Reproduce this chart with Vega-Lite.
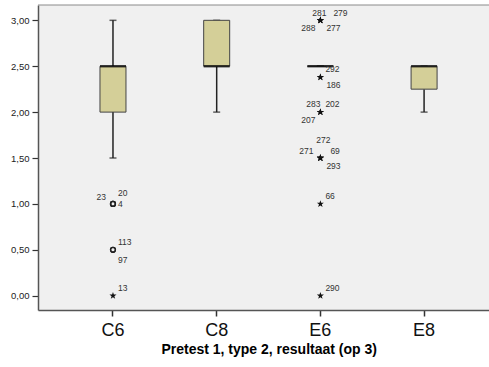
{
  "$schema": "https://vega.github.io/schema/vega-lite/v6.json",
  "width": 451,
  "height": 305,
  "autosize": {"type": "none"},
  "padding": {"left": 38, "top": 5, "right": 0, "bottom": 57},
  "background": "white",
  "config": {
    "view": {"stroke": null, "fill": "#f0f0f0"},
    "font": "Liberation Sans",
    "text": {"font": "Liberation Sans", "fontSize": 8.5, "color": "#333", "baseline": "middle"}
  },
  "datasets": {
    "boxes": [
      {"g": "C6", "low": 1.5, "q1": 2.0, "median": 2.5, "q3": 2.5, "high": 3.0},
      {"g": "C8", "low": 2.0, "q1": 2.5, "median": 2.5, "q3": 3.0, "high": 3.0},
      {"g": "E6", "low": 2.5, "q1": 2.5, "median": 2.5, "q3": 2.5, "high": 2.5},
      {"g": "E8", "low": 2.0, "q1": 2.25, "median": 2.5, "q3": 2.5, "high": 2.5}
    ],
    "cases": [
      {"g": "C6", "v": 1.0, "id": "23", "kind": "circle"},
      {"g": "C6", "v": 1.0, "id": "20", "kind": "circle"},
      {"g": "C6", "v": 1.0, "id": "4", "kind": "circle"},
      {"g": "C6", "v": 0.5, "id": "113", "kind": "circle"},
      {"g": "C6", "v": 0.5, "id": "97", "kind": "circle"},
      {"g": "C6", "v": 0.0, "id": "13", "kind": "star"},
      {"g": "E6", "v": 3.0, "id": "281", "kind": "star"},
      {"g": "E6", "v": 3.0, "id": "279", "kind": "star"},
      {"g": "E6", "v": 3.0, "id": "288", "kind": "star"},
      {"g": "E6", "v": 3.0, "id": "277", "kind": "star"},
      {"g": "E6", "v": 2.38, "id": "292", "kind": "star"},
      {"g": "E6", "v": 2.38, "id": "186", "kind": "star"},
      {"g": "E6", "v": 2.0, "id": "283", "kind": "star"},
      {"g": "E6", "v": 2.0, "id": "202", "kind": "star"},
      {"g": "E6", "v": 2.0, "id": "207", "kind": "star"},
      {"g": "E6", "v": 1.5, "id": "272", "kind": "star"},
      {"g": "E6", "v": 1.5, "id": "271", "kind": "star"},
      {"g": "E6", "v": 1.5, "id": "69", "kind": "star"},
      {"g": "E6", "v": 1.5, "id": "293", "kind": "star"},
      {"g": "E6", "v": 1.0, "id": "66", "kind": "star"},
      {"g": "E6", "v": 0.0, "id": "290", "kind": "star"}
    ]
  },
  "layer": [
    {
      "data": {"name": "boxes"},
      "mark": {"type": "rule", "color": "#222", "strokeWidth": 1.5},
      "encoding": {
        "x": {
          "field": "g", "type": "nominal",
          "scale": {"type": "band", "domain": ["C6", "C8", "E6", "E8"], "paddingInner": 0, "paddingOuter": 0.1745, "align": 0.639},
          "axis": {
            "title": "Pretest 1, type 2, resultaat (op 3)",
            "labelAngle": 0, "labelFontSize": 18, "labelColor": "#111", "labelPadding": 5,
            "tickSize": 6, "tickColor": "#333", "tickWidth": 1.5,
            "domainColor": "#555", "domainWidth": 1.5,
            "titleFontSize": 14, "titleFontWeight": "bold", "titleColor": "#000",
            "titleX": 230.7, "titleY": 43, "titleBaseline": "alphabetic", "titleAlign": "center"
          }
        },
        "y": {
          "field": "low", "type": "quantitative", "title": null,
          "scale": {"domain": [-0.156, 3.167], "nice": false, "zero": false},
          "axis": {
            "title": null,
            "values": [0, 0.5, 1, 1.5, 2, 2.5, 3],
            "labelExpr": "replace(format(datum.value, '.2f'), '.', ',')",
            "labelFontSize": 9.5, "labelColor": "#222", "labelPadding": 3,
            "tickSize": 6, "tickColor": "#333", "tickWidth": 1.2,
            "domainColor": "#555", "domainWidth": 1.5, "grid": false
          }
        },
        "y2": {"field": "q1"}
      }
    },
    {
      "data": {"name": "boxes"},
      "mark": {"type": "rule", "color": "#222", "strokeWidth": 1.5},
      "encoding": {
        "x": {"field": "g", "type": "nominal"},
        "y": {"field": "q3", "type": "quantitative", "title": null},
        "y2": {"field": "high"}
      }
    },
    {
      "data": {"name": "boxes"},
      "mark": {"type": "tick", "orient": "horizontal", "size": 7, "thickness": 1.5, "color": "#222"},
      "encoding": {
        "x": {"field": "g", "type": "nominal"},
        "y": {"field": "low", "type": "quantitative", "title": null}
      }
    },
    {
      "data": {"name": "boxes"},
      "mark": {"type": "tick", "orient": "horizontal", "size": 7, "thickness": 1.5, "color": "#222"},
      "encoding": {
        "x": {"field": "g", "type": "nominal"},
        "y": {"field": "high", "type": "quantitative", "title": null}
      }
    },
    {
      "data": {"name": "boxes"},
      "mark": {"type": "bar", "size": 26, "fill": "#d4cf98", "stroke": "#444", "strokeWidth": 1},
      "encoding": {
        "x": {"field": "g", "type": "nominal"},
        "y": {"field": "q1", "type": "quantitative", "title": null},
        "y2": {"field": "q3"}
      }
    },
    {
      "data": {"name": "boxes"},
      "mark": {"type": "tick", "orient": "horizontal", "size": 26, "thickness": 2.5, "color": "#000"},
      "encoding": {
        "x": {"field": "g", "type": "nominal"},
        "y": {"field": "median", "type": "quantitative", "title": null}
      }
    },
    {
      "data": {"values": [{"edge": "top"}]},
      "mark": {"type": "rule", "color": "#8a8a8a", "strokeWidth": 1},
      "encoding": {
        "y": {"datum": 3.167, "type": "quantitative", "title": null}
      }
    },
    {
      "data": {"name": "cases"},
      "transform": [{"filter": "datum.kind === 'circle'"}],
      "mark": {"type": "point", "shape": "circle", "filled": false, "stroke": "#222", "strokeWidth": 1.3, "size": 24, "opacity": 1},
      "encoding": {
        "x": {"field": "g", "type": "nominal"},
        "y": {"field": "v", "type": "quantitative", "title": null}
      }
    },
    {
      "data": {"name": "cases"},
      "transform": [{"filter": "datum.kind === 'star'"}],
      "mark": {"type": "point", "shape": "M0,-1L0.235,-0.324L0.951,-0.309L0.38,0.124L0.588,0.809L0,0.4L-0.588,0.809L-0.38,0.124L-0.951,-0.309L-0.235,-0.324Z", "filled": true, "fill": "#111", "strokeWidth": 0, "size": 55, "opacity": 1},
      "encoding": {
        "x": {"field": "g", "type": "nominal"},
        "y": {"field": "v", "type": "quantitative", "title": null}
      }
    },
    {
      "data": {"name": "cases"},
      "transform": [{"filter": {"field": "id", "oneOf": ["113", "13", "66", "290", "202", "292"]}}],
      "mark": {"type": "text", "align": "left", "dx": 5, "dy": -8},
      "encoding": {"x": {"field": "g", "type": "nominal"}, "y": {"field": "v", "type": "quantitative", "title": null}, "text": {"field": "id"}}
    },
    {
      "data": {"name": "cases"},
      "transform": [{"filter": {"field": "id", "oneOf": ["20"]}}],
      "mark": {"type": "text", "align": "left", "dx": 5, "dy": -11},
      "encoding": {"x": {"field": "g", "type": "nominal"}, "y": {"field": "v", "type": "quantitative", "title": null}, "text": {"field": "id"}}
    },
    {
      "data": {"name": "cases"},
      "transform": [{"filter": {"field": "id", "oneOf": ["4"]}}],
      "mark": {"type": "text", "align": "left", "dx": 5, "dy": 0},
      "encoding": {"x": {"field": "g", "type": "nominal"}, "y": {"field": "v", "type": "quantitative", "title": null}, "text": {"field": "id"}}
    },
    {
      "data": {"name": "cases"},
      "transform": [{"filter": {"field": "id", "oneOf": ["277", "186", "293"]}}],
      "mark": {"type": "text", "align": "left", "dx": 6, "dy": 8},
      "encoding": {"x": {"field": "g", "type": "nominal"}, "y": {"field": "v", "type": "quantitative", "title": null}, "text": {"field": "id"}}
    },
    {
      "data": {"name": "cases"},
      "transform": [{"filter": {"field": "id", "oneOf": ["97"]}}],
      "mark": {"type": "text", "align": "left", "dx": 5, "dy": 10},
      "encoding": {"x": {"field": "g", "type": "nominal"}, "y": {"field": "v", "type": "quantitative", "title": null}, "text": {"field": "id"}}
    },
    {
      "data": {"name": "cases"},
      "transform": [{"filter": {"field": "id", "oneOf": ["23", "271"]}}],
      "mark": {"type": "text", "align": "right", "dx": -7, "dy": -7},
      "encoding": {"x": {"field": "g", "type": "nominal"}, "y": {"field": "v", "type": "quantitative", "title": null}, "text": {"field": "id"}}
    },
    {
      "data": {"name": "cases"},
      "transform": [{"filter": {"field": "id", "oneOf": ["288", "207"]}}],
      "mark": {"type": "text", "align": "right", "dx": -5, "dy": 8},
      "encoding": {"x": {"field": "g", "type": "nominal"}, "y": {"field": "v", "type": "quantitative", "title": null}, "text": {"field": "id"}}
    },
    {
      "data": {"name": "cases"},
      "transform": [{"filter": {"field": "id", "oneOf": ["283"]}}],
      "mark": {"type": "text", "align": "right", "dx": 0, "dy": -8},
      "encoding": {"x": {"field": "g", "type": "nominal"}, "y": {"field": "v", "type": "quantitative", "title": null}, "text": {"field": "id"}}
    },
    {
      "data": {"name": "cases"},
      "transform": [{"filter": {"field": "id", "oneOf": ["281"]}}],
      "mark": {"type": "text", "align": "center", "dx": -1, "dy": -7},
      "encoding": {"x": {"field": "g", "type": "nominal"}, "y": {"field": "v", "type": "quantitative", "title": null}, "text": {"field": "id"}}
    },
    {
      "data": {"name": "cases"},
      "transform": [{"filter": {"field": "id", "oneOf": ["279"]}}],
      "mark": {"type": "text", "align": "left", "dx": 13, "dy": -7},
      "encoding": {"x": {"field": "g", "type": "nominal"}, "y": {"field": "v", "type": "quantitative", "title": null}, "text": {"field": "id"}}
    },
    {
      "data": {"name": "cases"},
      "transform": [{"filter": {"field": "id", "oneOf": ["272"]}}],
      "mark": {"type": "text", "align": "center", "dx": 3, "dy": -18},
      "encoding": {"x": {"field": "g", "type": "nominal"}, "y": {"field": "v", "type": "quantitative", "title": null}, "text": {"field": "id"}}
    },
    {
      "data": {"name": "cases"},
      "transform": [{"filter": {"field": "id", "oneOf": ["69"]}}],
      "mark": {"type": "text", "align": "left", "dx": 10, "dy": -7},
      "encoding": {"x": {"field": "g", "type": "nominal"}, "y": {"field": "v", "type": "quantitative", "title": null}, "text": {"field": "id"}}
    }
  ]
}
